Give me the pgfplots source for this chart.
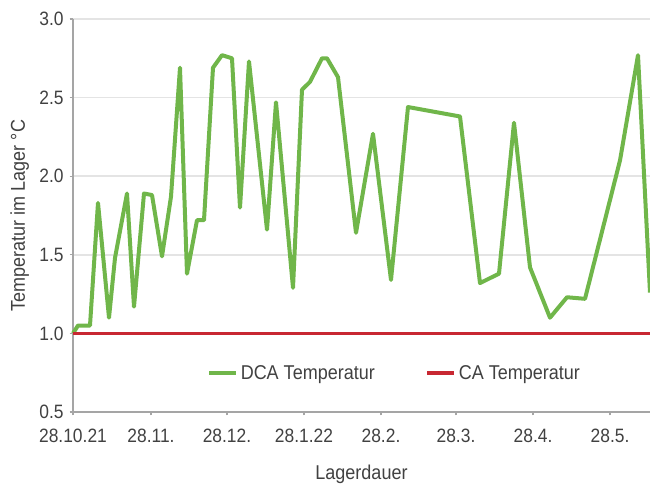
\documentclass[border=0pt]{standalone}
\usepackage{pgfplots}
\pgfplotsset{compat=1.18}
\usepackage{fontspec}
\setmainfont{Liberation Sans}[FakeStretch=0.9]
\definecolor{dcagreen}{RGB}{112,182,74}
\definecolor{cared}{RGB}{200,40,50}
\definecolor{txt}{RGB}{65,65,65}
\definecolor{axgray}{RGB}{165,165,165}
\definecolor{gridgray}{RGB}{228,228,228}

\pgfplotstableread{
x y
0 1.00
5 1.05
17 1.05
25 1.83
36 1.10
42 1.48
54 1.89
61 1.17
71 1.89
79 1.88
89 1.49
98 1.87
107 2.69
114 1.38
124 1.72
131 1.72
140 2.69
149 2.77
159 2.75
167 1.80
176 2.73
194 1.66
203 2.47
220 1.29
229 2.55
237 2.60
249 2.75
254 2.75
265 2.63
283 1.64
300 2.27
318 1.34
335 2.44
387 2.38
407 1.32
426 1.38
441 2.34
457 1.42
477 1.10
494 1.23
512 1.22
547 2.10
565 2.77
577 1.26
}\dcadata

\pgfplotstableread{
x y
0 1.0
577 1.0
}\cadata

\begin{document}
\begin{tikzpicture}
\path[use as bounding box] (-54.75pt,-55.5pt) rectangle (432.75pt,309pt);
\begin{axis}[
  at={(0pt,0pt)}, anchor=south west,
  scale only axis, width=432.75pt, height=294.75pt,
  xmin=0, xmax=577, ymin=0.5, ymax=3.0,
  axis x line=bottom, axis y line=left,
  axis line style={-, draw=axgray, line width=1.8pt},
  xtick={0,78,154,231,308,383,460,537},
  xticklabels={28.10.21,28.11.,28.12.,28.1.22,28.2.,28.3.,28.4.,28.5.},
  ytick={0.5,1.0,1.5,2.0,2.5,3.0},
  /pgf/number format/fixed, /pgf/number format/fixed zerofill, /pgf/number format/precision=1,
  /pgf/number format/assume math mode=true,
  ymajorgrids, grid style={gridgray, line width=1.2pt},
  tick align=outside, major tick length=2.5pt,
  tick style={axgray, line width=1pt},
  ticklabel style={font=\fontsize{14.5}{17}\selectfont, text=txt},
  xticklabel style={yshift=-7pt},
  yticklabel style={xshift=-1pt},
  xlabel={Lagerdauer}, ylabel={Temperatur im Lager °C},
  label style={font=\fontsize{15}{18}\selectfont, text=txt},
  xlabel style={at={(axis description cs:0.5,0)}, anchor=center, yshift=-47pt},
  ylabel style={at={(axis description cs:0,0.5)}, anchor=center, yshift=40pt},
  legend columns=2,
  legend style={at={(axis description cs:0.558,0.099)}, anchor=center, draw=none, fill=none,
    font=\fontsize{15}{18}\selectfont, text=txt,
    /tikz/every even column/.append style={column sep=36pt}},
  legend image code/.code={\draw[#1, line width=3pt] (0pt,0pt) -- (20pt,0pt);},
  clip=false,
]
\addplot[dcagreen, line width=3pt, line join=round] table[x=x,y=y] {\dcadata};
\addlegendentry{DCA Temperatur}
\addplot[cared, line width=2.3pt] table[x=x,y=y] {\cadata};
\addlegendentry{CA Temperatur}
\end{axis}
\end{tikzpicture}
\end{document}
